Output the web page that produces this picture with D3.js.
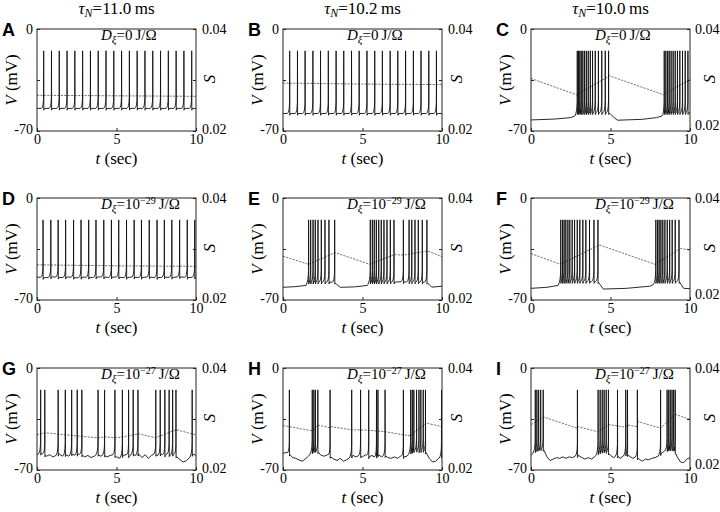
<!DOCTYPE html>
<html lang="en">
<head>
<meta charset="UTF-8" />
<title>Membrane potential and S traces</title>
<script src="https://d3js.org/d3.v7.min.js"></script>
<style>
  body { margin: 0; background: #fff; }
  svg { display: block; }
</style>
</head>
<body>
<svg width="720" height="512"></svg>
<script>
// column / row labels
const tauLabels = ["11.0", "10.2", "10.0"];
const noiseExponents = [null, "\u221229", "\u221227"];
const panelLetters = ["A", "B", "C", "D", "E", "F", "G", "H", "I"];
const timeTicks = [0, 5, 10];
const voltTicks = [-70, -35, 0];
const condTicks = [0.02, 0.03, 0.04];
const spikePeak = -15;
const noiseStep = 0.2; // sample step (s) of the row 3 baselines

// spike times (s)
const spikesA = [0.42, 0.91, 1.40, 1.89, 2.38, 2.87, 3.36, 3.85, 4.34, 4.83, 5.32, 5.81, 6.30, 6.79, 7.28, 7.77, 8.26, 8.75, 9.24, 9.73];
const spikesB = [0.42, 0.91, 1.39, 1.88, 2.36, 2.85, 3.34, 3.82, 4.31, 4.79, 5.28, 5.77, 6.25, 6.74, 7.22, 7.71, 8.20, 8.68, 9.17, 9.65];
const spikesC = [2.91, 2.99, 3.07, 3.16, 3.26, 3.37, 3.48, 3.60, 3.73, 3.87, 4.04, 4.24, 4.45, 4.67, 4.88,
                 8.38, 8.48, 8.59, 8.69, 8.81, 8.94, 9.07, 9.21, 9.36, 9.53, 9.70, 9.87];
const spikesD = [0.38, 0.87, 1.33, 1.80, 2.30, 2.77, 3.25, 3.71, 4.20, 4.68, 5.14, 5.63, 6.11, 6.57, 7.06, 7.55, 8.01, 8.48, 8.97, 9.45, 9.92];
const spikesE = [1.61, 1.74, 1.89, 2.03, 2.20, 2.41, 2.64, 2.89, 3.25,
                 5.49, 5.62, 5.74, 5.87, 6.02, 6.18, 6.35, 6.54, 6.75, 6.98,
                 7.57, 7.93, 8.10, 8.30, 8.51, 8.76, 9.05];
const spikesF = [1.87, 1.98, 2.08, 2.19, 2.32, 2.44, 2.59, 2.74, 2.91, 3.07, 3.26, 3.45, 3.68, 3.96, 4.21,
                 7.85, 7.96, 8.06, 8.17, 8.29, 8.42, 8.57, 8.72, 8.88, 9.07, 9.31];
const spikesG = [0.23, 0.49, 1.33, 1.78, 2.18, 2.53, 2.82, 3.84, 4.25, 4.90, 5.37, 5.76, 6.05, 6.35,
                 7.47, 7.75, 8.04, 8.31, 8.53, 8.74, 9.76];
const spikesH = [0.40, 1.84, 1.94, 2.04, 2.19, 2.96, 4.32, 4.88, 5.39, 5.88, 5.97, 6.42, 7.57,
                 8.03, 8.13, 8.23, 8.40, 8.55, 8.67, 8.82, 8.96, 9.97];
const spikesI = [0.27, 0.37, 0.48, 0.61, 0.77, 2.92, 4.22, 4.35, 4.48, 4.60, 4.73, 4.87, 5.44, 5.96, 6.07, 6.69,
                 8.15, 8.56, 8.66, 8.76, 8.87, 8.97, 9.07];

// sub-threshold baseline [t (s), V (mV)]
const baseA = [[0, -54.5], [10, -54.5]];
const baseB = [[0, -58], [10, -58]];
const baseC = [[0, -62.4], [1.5, -61.8], [2.5, -60.8], [2.8, -59.5], [2.88, -57.5], [4.9, -57.5], [4.97, -58],
               [5.1, -59.5], [5.25, -61], [5.45, -62.6], [7.0, -62], [7.9, -60.8], [8.3, -59.5], [8.36, -57.5], [10, -57.5]];
const baseD = [[0, -54.3], [0.5, -54.7], [1, -54.1], [1.5, -54.6], [2, -54.2], [2.5, -54.8], [3, -54.3], [3.5, -54.6],
               [4, -54.1], [4.5, -54.5], [5, -54.2], [5.5, -54.7], [6, -54.3], [6.5, -54.6], [7, -54.2], [7.5, -54.7],
               [8, -54.3], [8.5, -54.5], [9, -54.1], [9.5, -54.6], [10, -54.3]];
const baseE = [[0, -61.3], [0.8, -60.8], [1.45, -60], [1.55, -58], [1.6, -57.8], [3.25, -57.8], [3.4, -59.5], [3.6, -61.3],
               [4.5, -61], [5.3, -60], [5.42, -58], [5.47, -57.8], [7.0, -57.8], [7.3, -57.5], [9.05, -57.8],
               [9.2, -59.5], [9.35, -61.2], [10, -60.5]];
const baseF = [[0, -62], [1.0, -61.3], [1.7, -60], [1.8, -58.5], [1.87, -57.4], [4.22, -57.4], [4.35, -59.5], [4.55, -62.5],
               [6, -62], [7.5, -60.5], [7.75, -59], [7.83, -57.4], [9.33, -57.4], [9.45, -59.5], [9.6, -62], [10, -62.2]];
// noisy baselines, one value every noiseStep seconds
const noiseG = [-59.5, -58.5, -59, -60.5, -59.5, -61, -60, -59, -60.5, -59.5, -60.5, -59, -60, -59, -59.5, -61, -60, -61.5,
                -60.5, -59, -60.5, -59.5, -61, -60, -59.5, -61, -62, -60, -59.5, -60.5, -59, -60, -59, -61.5, -59.5, -62,
                -60, -59, -60, -59, -60, -59, -60, -59, -61, -63, -64.5, -63.5, -61.5, -59, -60];
const noiseH = [-58.5, -58, -59, -61.5, -62, -63, -64, -62.5, -60.5, -58, -56.5, -57.5, -60, -60.5, -59.5, -61, -62.5, -63.5,
                -62, -64, -63, -61.5, -60, -61, -60, -61, -59.5, -61, -60, -61.5, -59.5, -61, -60, -61.5, -62, -61,
                -62, -60.5, -61, -60.5, -58, -57, -56.5, -57, -56.5, -58, -62, -64.5, -64, -62, -60.5];
const noiseI = [-60, -57.5, -56, -55.5, -56, -61, -63.5, -62.5, -61.5, -62, -61, -62, -61, -61.5, -60.5, -60, -61.5, -62.5,
                -61.5, -62.5, -61, -58.5, -57.5, -57, -57.5, -60, -61.5, -60, -62, -60.5, -59, -60.5, -62, -61, -62.5, -64,
                -62.5, -63, -62, -61.5, -60.5, -58.5, -57, -56, -55.5, -56, -61, -64.5, -65, -62.5, -61.5];

// S trace vertices [t (s), S]
const sA = [[0, 0.0270], [5, 0.0269], [10, 0.0268]];
const sB = [[0, 0.0294], [5, 0.0292], [10, 0.0291]];
const sC = [[0, 0.0303], [2.86, 0.0271], [4.95, 0.0308], [8.34, 0.0271], [10, 0.0301]];
const sD = [[0, 0.0269], [5, 0.0267], [10, 0.0266]];
const sE = [[0, 0.0286], [1.6, 0.0270], [3.27, 0.0293], [5.47, 0.0270], [7.0, 0.0289], [7.5, 0.0288], [9.1, 0.0296], [10, 0.0285]];
const sF = [[0, 0.0291], [1.85, 0.0270], [4.3, 0.0308], [7.8, 0.0270], [9.43, 0.0301], [10, 0.0298]];
const sG = [[0, 0.0269], [0.5, 0.0273], [2.8, 0.0266], [3.85, 0.0263], [4.3, 0.0265], [4.9, 0.0263], [5.4, 0.0265],
            [6.4, 0.0271], [7.45, 0.0263], [8.75, 0.0279], [10, 0.0269]];
const sH = [[0, 0.0287], [1.84, 0.0277], [2.2, 0.0288], [2.95, 0.0283], [3.0, 0.0285], [4.3, 0.0279], [5.4, 0.0278],
            [6.45, 0.0275], [7.55, 0.0269], [8.0, 0.0267], [9.0, 0.0292], [10, 0.0285]];
const sI = [[0, 0.0289], [0.8, 0.0304], [2.9, 0.0282], [2.95, 0.0285], [4.2, 0.0275], [4.9, 0.0289], [5.9, 0.0284],
            [6.1, 0.0288], [6.68, 0.0285], [6.72, 0.0295], [8.15, 0.0282], [9.1, 0.0309], [10, 0.0299]];

const toPairs = vals => vals.map((v, i) => [i * noiseStep, v]);
const panels = [
  { spikes: spikesA, base: baseA, s: sA },
  { spikes: spikesB, base: baseB, s: sB },
  { spikes: spikesC, base: baseC, s: sC },
  { spikes: spikesD, base: baseD, s: sD },
  { spikes: spikesE, base: baseE, s: sE },
  { spikes: spikesF, base: baseF, s: sF },
  { spikes: spikesG, base: toPairs(noiseG), s: sG },
  { spikes: spikesH, base: toPairs(noiseH), s: sH },
  { spikes: spikesI, base: toPairs(noiseI), s: sI },
];

const SERIF = "'Liberation Serif', 'DejaVu Serif', serif";
const SANS = "'Liberation Sans', 'DejaVu Sans', sans-serif";

const colLeft = [37, 283, 531];
const rowTop = [29, 198, 368];
const plotW = 159;
const plotH = 102;
const rightPad = [6, 6, 5];      // gap before the S tick labels
const lowLabelDy = ["0.15em", "0.15em", "-0.1em"];
const sTitleOffset = [14, 15, 20];

const svg = d3.select("svg").attr("font-family", SERIF);

const x = d3.scaleLinear().domain([0, 10]).range([0, plotW]);
const yV = d3.scaleLinear().domain([-70, 0]).range([plotH, 0]);
const yS = d3.scaleLinear().domain([0.02, 0.04]).range([plotH, 0]);

// spike waveform offsets [dt (s), dV above baseline]; null = peak
const spikeShape = [[-0.15, 0], [-0.09, 0.8], [-0.05, 2], [-0.02, 4.5], [-0.005, 8], [0, null],
                    [0.008, -1.2], [0.03, -0.4], [0.05, 0]];

function tracePoints(spikes, base) {
  const baseAt = d3.scaleLinear().domain(base.map(d => d[0])).range(base.map(d => d[1])).clamp(true);
  const inWindow = t => spikes.some(s => t > s - 0.15 && t < s + 0.05);
  const pts = base.filter(d => !inWindow(d[0]));
  spikes.forEach((s, k) => {
    const prev = k > 0 ? spikes[k - 1] : -Infinity;
    const next = k < spikes.length - 1 ? spikes[k + 1] : Infinity;
    spikeShape.forEach(([dt, dv]) => {
      const t = s + dt;
      if (dt < 0 && t <= prev + 0.03) return;
      if (dt > 0 && t >= next - 0.02) return;
      pts.push([t, dv === null ? spikePeak : baseAt(t) + dv]);
    });
  });
  return pts.sort((a, b) => a[0] - b[0]);
}

const line = d3.line().x(d => x(d[0])).y(d => yV(d[1]));
const sLine = d3.line().x(d => x(d[0])).y(d => yS(d[1]));

// column titles
tauLabels.forEach((tau, c) => {
  const t = svg.append("text").attr("font-family", SERIF)
    .attr("x", colLeft[c] + plotW / 2).attr("y", 14)
    .attr("text-anchor", "middle").attr("font-size", 17);
  t.append("tspan").attr("font-style", "italic").text("\u03c4");
  t.append("tspan").attr("font-style", "italic").attr("font-size", 12).attr("dy", 3).text("N");
  t.append("tspan").attr("dy", -3).text("=" + tau + "\u2009ms");
});

panels.forEach((p, i) => {
  const r = Math.floor(i / 3), c = i % 3;
  const g = svg.append("g").attr("transform", `translate(${colLeft[c]},${rowTop[r]})`);

  g.append("clipPath").attr("id", "clip" + i)
    .append("rect").attr("width", plotW).attr("height", plotH);

  const plot = g.append("g").attr("clip-path", `url(#clip${i})`);
  plot.append("path")
    .datum(p.s)
    .attr("d", sLine)
    .attr("fill", "none")
    .attr("stroke", "#444")
    .attr("stroke-width", 0.75)
    .attr("stroke-dasharray", "2.2,1.2");
  plot.append("path")
    .datum(tracePoints(p.spikes, p.base))
    .attr("d", line)
    .attr("fill", "none")
    .attr("stroke", "#111")
    .attr("stroke-width", 0.9)
    .attr("stroke-linejoin", "round");

  // frame
  g.append("rect").attr("width", plotW).attr("height", plotH)
    .attr("fill", "none").attr("stroke", "#222").attr("stroke-width", 1);

  const xAxis = g.append("g")
    .attr("transform", `translate(0,${plotH})`)
    .call(d3.axisBottom(x).tickValues(timeTicks).tickSize(-3).tickPadding(3).tickFormat(d3.format("d")));
  const vAxis = g.append("g")
    .call(d3.axisLeft(yV).tickValues(voltTicks).tickSize(-3).tickPadding(4)
      .tickFormat(d => d === -35 ? "" : String(d)));
  const sAxis = g.append("g")
    .attr("transform", `translate(${plotW},0)`)
    .call(d3.axisRight(yS).tickValues(condTicks).tickSize(-3).tickPadding(rightPad[c])
      .tickFormat(d => Math.abs(d - 0.03) < 1e-9 ? "" : d3.format(".2f")(d)));
  [xAxis, vAxis, sAxis].forEach(a => {
    a.select(".domain").remove();
    a.attr("font-family", SERIF).attr("font-size", 14);
    a.selectAll("line").attr("stroke", "#222");
  });
  vAxis.selectAll(".tick text").filter(d => d === -70).attr("dy", "0.15em");
  sAxis.selectAll(".tick text").filter(d => d < 0.025).attr("dy", lowLabelDy[c]);

  // axis titles
  const vt = g.append("text").attr("font-family", SERIF).attr("font-size", 17)
    .attr("transform", `translate(-20,${plotH / 2}) rotate(-90)`)
    .attr("text-anchor", "middle");
  vt.append("tspan").attr("font-style", "italic").text("V");
  vt.append("tspan").text(" (mV)");

  g.append("text").attr("font-family", SERIF).attr("font-size", 17).attr("font-style", "italic")
    .attr("transform", `translate(${plotW + sTitleOffset[c] + 5},${plotH / 2 - 1}) rotate(-90)`)
    .attr("text-anchor", "middle").text("S");

  const tt = g.append("text").attr("font-family", SERIF).attr("font-size", 17)
    .attr("x", plotW / 2).attr("y", plotH + 33).attr("text-anchor", "middle");
  tt.append("tspan").attr("font-style", "italic").text("t");
  tt.append("tspan").text(" (sec)");

  // panel letter
  g.append("text").attr("font-family", SANS).attr("font-weight", "bold").attr("font-size", 18)
    .attr("x", -35).attr("y", 7).text(panelLetters[i]);

  // noise intensity label
  const dl = g.append("text").attr("font-family", SERIF).attr("font-size", 15)
    .attr("x", 64).attr("y", 11);
  dl.append("tspan").attr("font-style", "italic").text("D");
  dl.append("tspan").attr("font-style", "italic").attr("font-size", 11).attr("dy", 3).text("\u03be");
  const ex = noiseExponents[r];
  if (ex === null) {
    dl.append("tspan").attr("dy", -3).text("=0\u2009J/\u03a9");
  } else {
    dl.append("tspan").attr("dy", -3).text("=10");
    dl.append("tspan").attr("font-size", 10).attr("dy", -5).text(ex);
    dl.append("tspan").attr("dy", 5).text("\u2009J/\u03a9");
  }
});
</script>
</body>
</html>
